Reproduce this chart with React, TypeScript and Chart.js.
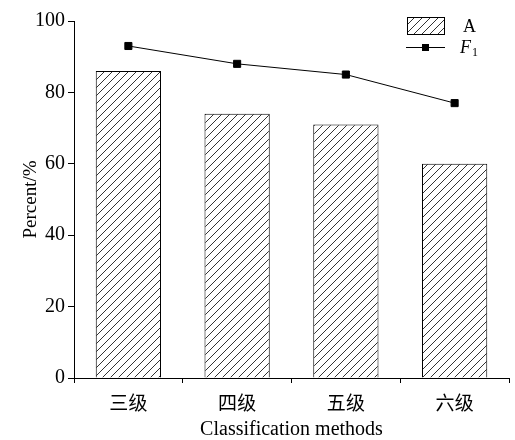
import React, { useEffect, useRef } from "react";
import { Chart, registerables } from "chart.js";

Chart.register(...registerables);

const categories = ["三级", "四级", "五级", "六级"];
const seriesA = [86, 74, 71, 60];
const seriesF1 = [93, 88, 85, 77];
const yTicksMax = 100;
const yStep = 20;

const FONT = "'Liberation Serif', 'Times New Roman', 'Noto Sans CJK SC', serif";

function makeHatch(): CanvasPattern | string {
  const c = document.createElement("canvas");
  const s = 8;
  c.width = s;
  c.height = s;
  const ctx = c.getContext("2d");
  if (!ctx) return "#fff";
  ctx.fillStyle = "#fff";
  ctx.fillRect(0, 0, s, s);
  ctx.strokeStyle = "#333";
  ctx.lineWidth = 1;
  ctx.beginPath();
  ctx.moveTo(-1, s + 1);
  ctx.lineTo(s + 1, -1);
  ctx.moveTo(-1, 1);
  ctx.lineTo(1, -1);
  ctx.moveTo(s - 1, s + 1);
  ctx.lineTo(s + 1, s - 1);
  ctx.stroke();
  const p = ctx.createPattern(c, "repeat");
  return p || "#fff";
}

export default function App() {
  const ref = useRef<HTMLCanvasElement | null>(null);

  useEffect(() => {
    document.body.style.margin = "0";
    const canvas = ref.current;
    if (!canvas) return;
    const hatch = makeHatch();

    const legendPlugin = {
      id: "customLegend",
      afterDraw(chart: any) {
        const ctx = chart.ctx as CanvasRenderingContext2D;
        ctx.save();
        ctx.fillStyle = hatch as any;
        ctx.fillRect(407, 17, 37, 17);
        ctx.strokeStyle = "#000";
        ctx.lineWidth = 1;
        ctx.strokeRect(407.5, 17.5, 37, 17);
        ctx.fillStyle = "#000";
        ctx.font = `18px ${FONT}`;
        ctx.textBaseline = "middle";
        ctx.textAlign = "left";
        ctx.fillText("A", 463, 27);
        ctx.beginPath();
        ctx.moveTo(406, 47.5);
        ctx.lineTo(445, 47.5);
        ctx.stroke();
        ctx.fillRect(422, 44, 7, 7);
        ctx.font = `italic 18px ${FONT}`;
        ctx.fillText("F", 460, 48);
        const w = ctx.measureText("F").width;
        ctx.font = `12px ${FONT}`;
        ctx.fillText("1", 460 + w + 1, 53);
        ctx.restore();
      },
    };

    const chart = new Chart(canvas, {
      type: "bar",
      data: {
        labels: categories,
        datasets: [
          {
            type: "line",
            label: "F1",
            data: seriesF1,
            borderColor: "#000",
            backgroundColor: "#000",
            borderWidth: 1,
            pointStyle: "rect",
            pointRadius: 5,
            pointBackgroundColor: "#000",
            pointBorderColor: "#000",
            fill: false,
            order: 0,
          } as any,
          {
            type: "bar",
            label: "A",
            data: seriesA,
            backgroundColor: hatch as any,
            borderColor: "#000",
            borderWidth: 1,
            categoryPercentage: 1,
            barPercentage: 0.6,
            order: 1,
          },
        ],
      },
      options: {
        animation: false,
        responsive: false,
        maintainAspectRatio: false,
        layout: { padding: { left: 20, top: 21, right: 2, bottom: 0 } },
        plugins: {
          legend: { display: false },
          tooltip: { enabled: false },
        },
        scales: {
          x: {
            offset: true,
            grid: {
              offset: true,
              drawOnChartArea: false,
              drawTicks: true,
              tickLength: 5,
              color: "#000",
            },
            border: { display: true, color: "#000", width: 1 },
            ticks: {
              color: "#000",
              font: { family: FONT, size: 19 },
              padding: 11,
            },
            title: {
              display: true,
              text: "Classification methods",
              color: "#000",
              font: { family: FONT, size: 20, lineHeight: 1.0 },
              padding: { top: 0, bottom: 0 },
            },
            afterFit(scale: any) {
              scale.height = 62;
            },
          },
          y: {
            min: 0,
            max: yTicksMax,
            ticks: {
              stepSize: yStep,
              color: "#000",
              font: { family: FONT, size: 20 },
              padding: 3,
            },
            grid: {
              drawOnChartArea: false,
              drawTicks: true,
              tickLength: 6,
              color: "#000",
            },
            border: { display: true, color: "#000", width: 1 },
            title: {
              display: true,
              text: "Percent/%",
              color: "#000",
              font: { family: FONT, size: 19 },
              padding: { top: 0, bottom: 0 },
            },
            afterFit(scale: any) {
              scale.width = 54;
            },
          },
        },
      },
      plugins: [legendPlugin],
    });

    return () => chart.destroy();
  }, []);

  return (
    <div style={{ width: 515, height: 440, background: "#fff" }}>
      <canvas ref={ref} width={515} height={440} style={{ display: "block" }} />
    </div>
  );
}
